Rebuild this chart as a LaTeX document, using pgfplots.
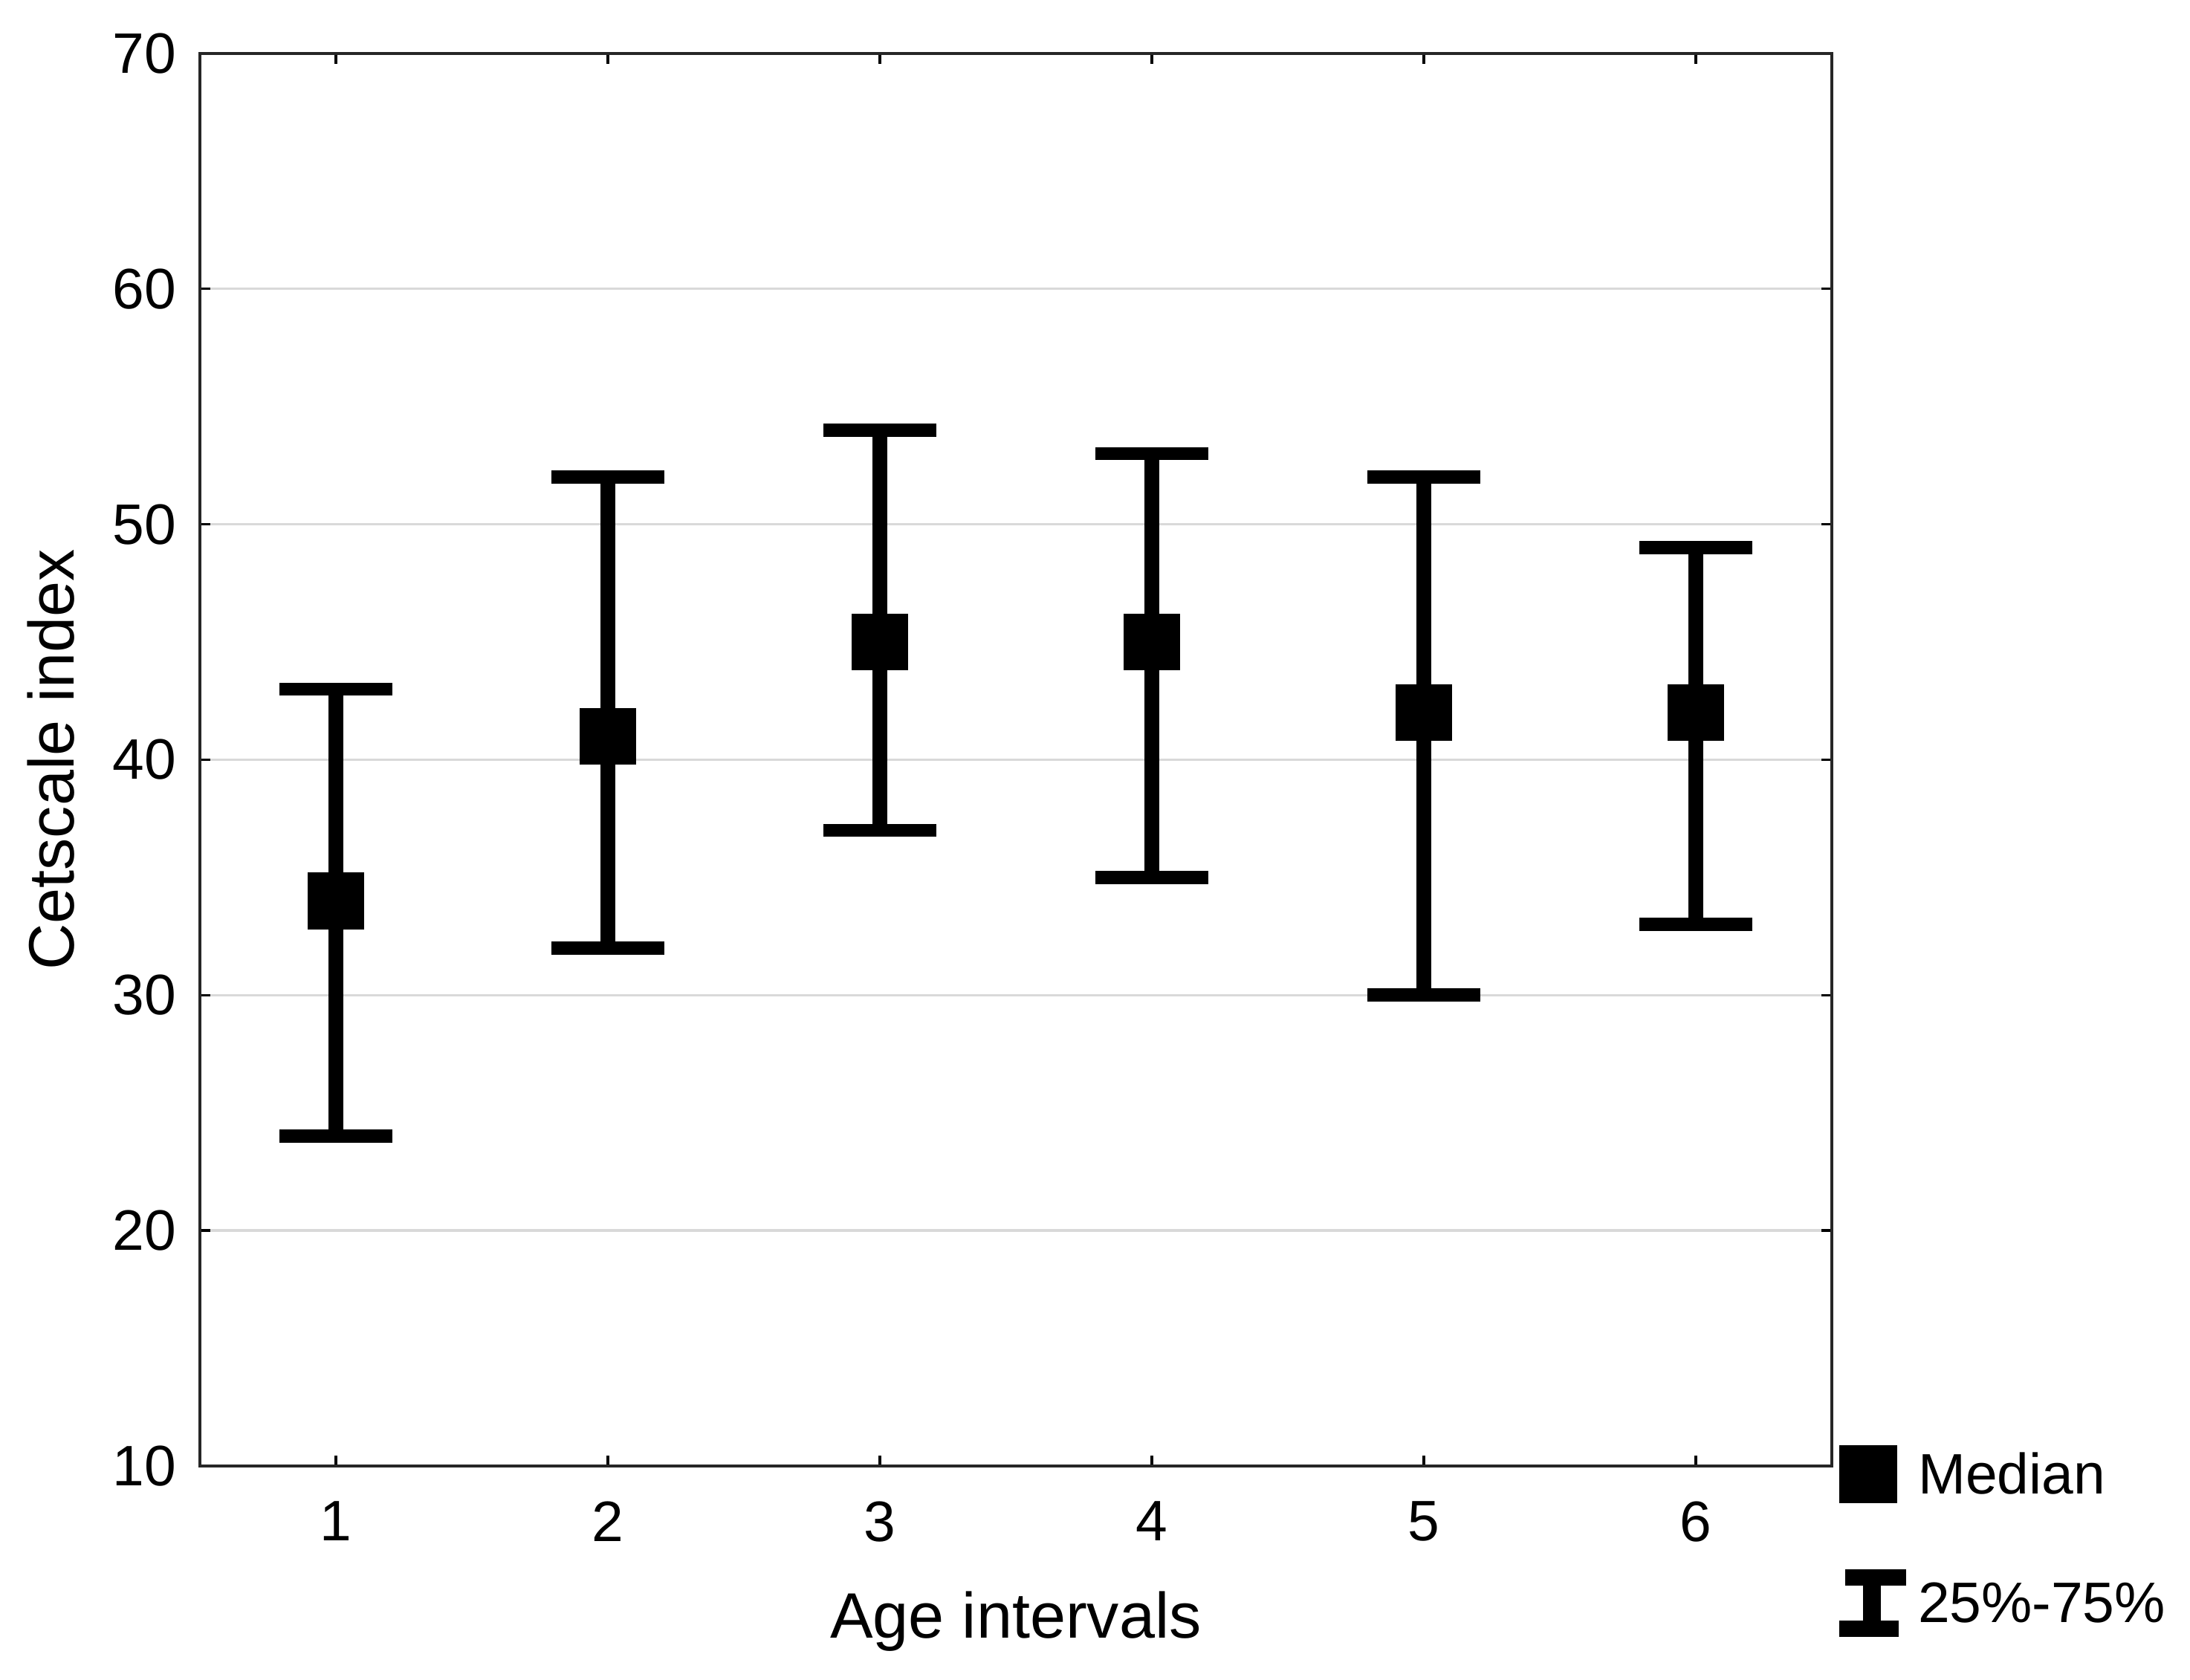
\documentclass[border=0pt]{standalone}
\usepackage{fontspec}
\setmainfont{Liberation Sans}
\usepackage{pgfplots}
\pgfplotsset{compat=1.18}
\usepackage{pgfplotstable}

% median and quartiles per age interval
\pgfplotstableread{
x  med  q1  q3
1  34   24  43
2  41   32  52
3  45   37  54
4  45   35  53
5  42   30  52
6  42   33  49
}\cetdata

\begin{document}
\begin{tikzpicture}
\begin{axis}[
    scale only axis,
    width=274.5pt, height=237.6pt,
    xmin=0.5, xmax=6.5,
    ymin=10, ymax=70,
    xtick={1,2,3,4,5,6},
    ytick={10,20,30,40,50,60,70},
    tick align=inside,
    major tick length=1.7pt,
    tick style={black, line width=0.4pt},
    axis line style={black!85, line width=0.5pt},
    ymajorgrids,
    grid style={black!15, line width=0.4pt},
    /pgf/number format/assume math mode=true,
    ticklabel style={font=\fontsize{9.6}{11}\selectfont},
    xticklabel style={yshift=-2.5pt},
    yticklabel style={xshift=-0.5pt},
    xlabel={Age intervals},
    ylabel={Cetscale index},
    label style={font=\fontsize{10.8}{13}\selectfont},
    xlabel style={at={(axis description cs:0.5,-0.11)}, anchor=center},
    ylabel style={at={(axis description cs:-0.0914,0.5)}, anchor=center},
    legend style={at={(rel axis cs:1,0)}, anchor=north west,
        draw=none, fill=none, inner sep=0pt,
        font=\fontsize{9.6}{11}\selectfont,
        row sep=9.2pt, xshift=1pt, yshift=4.4pt},
    legend cell align=left,
]
\addplot[
    only marks, mark=square*, mark size=4.7pt,
    mark options={fill=black, draw=black, line width=0pt},
    legend image code/.code={\fill[black] (0pt,-4.06pt) rectangle (9.4pt,5.34pt);},
    error bars/.cd,
        y dir=both, y explicit,
        error bar style={line width=2.4pt, black},
        error mark options={rotate=90, line width=2.2pt, mark size=9.45pt, black},
] table[x=x, y=med,
        y error plus expr=\thisrow{q3}-\thisrow{med},
        y error minus expr=\thisrow{med}-\thisrow{q1}] {\cetdata};
\addlegendentry{Median}
\addlegendimage{legend image code/.code={
    \fill[black] (1.1pt,3.85pt) rectangle (10.9pt,6.1pt);
    \fill[black] (0pt,-4.8pt) rectangle (9.6pt,-2.45pt);
    \fill[black] (4pt,-2.5pt) rectangle (6.6pt,3.9pt);
}}
\addlegendentry{25\%-75\%}
\end{axis}
\path (current axis.south west) ++(-33.625pt,-36pt) rectangle ([shift={(60.25pt,9pt)}]current axis.north east);
\end{tikzpicture}
\end{document}
